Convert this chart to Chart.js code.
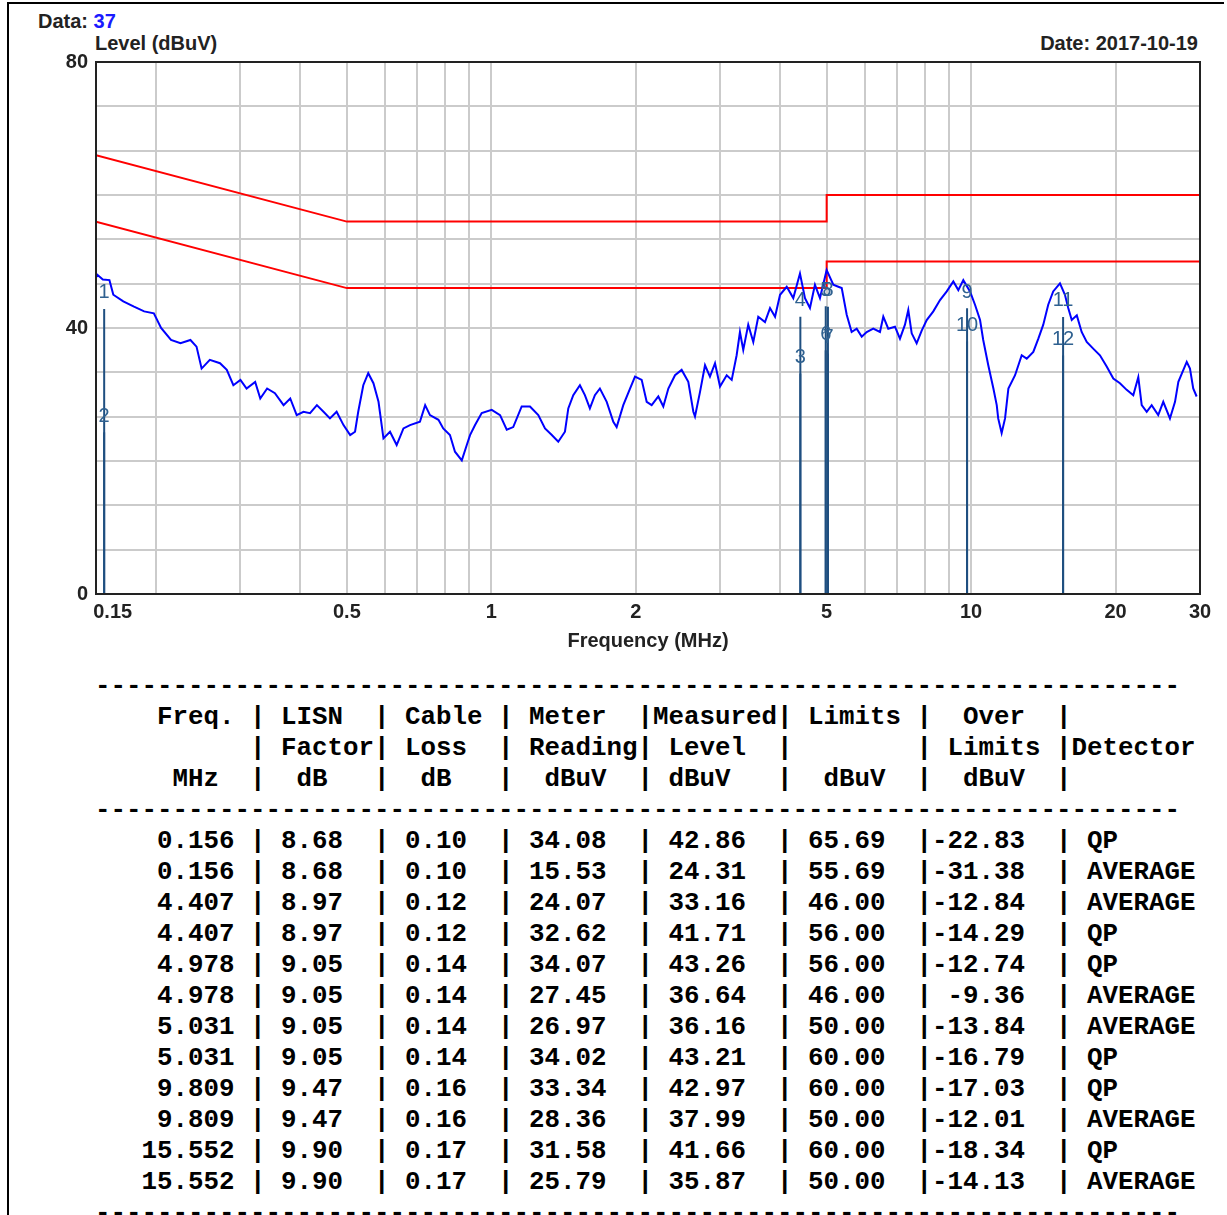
<!DOCTYPE html>
<html>
<head>
<meta charset="utf-8">
<title>Conducted emission</title>
<script src="https://cdn.jsdelivr.net/npm/chart.js@4.4.1/dist/chart.umd.min.js"></script>
<style>
  html, body { margin: 0; padding: 0; background: #fff; }
  body { width: 1227px; height: 1215px; position: relative; overflow: hidden; font-family: 'Liberation Sans', Arial, sans-serif; }
  .frame { position: absolute; left: 7px; top: 2px; width: 1215px; height: 1240px; border-left: 2px solid #000; border-top: 2px solid #000; }
  .lbl { position: absolute; font-weight: bold; font-size: 20px; color: #222; white-space: nowrap; line-height: 20px; }
  #chartBox { position: absolute; left: 0; top: 0; }
  #table { position: absolute; left: 95px; top: 671px; margin: 0; font-family: 'Liberation Mono', 'Courier New', monospace; font-weight: bold; font-size: 25.83px; line-height: 31px; color: #000; }
</style>
</head>
<body>
<div class="frame"></div>
<div class="lbl" style="left:38px; top:11px;">Data: <span style="color:#1a1aff">37</span></div>
<div class="lbl" style="left:95px; top:33px;">Level (dBuV)</div>
<div class="lbl" style="right:29px; top:33px;">Date: 2017-10-19</div>
<canvas id="chartBox" width="1227" height="660"></canvas>
<pre id="table"></pre>

<script>
// Шкалы
const xGridValues = [0.15, 0.2, 0.3, 0.4, 0.5, 0.6, 0.7, 0.8, 0.9, 1, 2, 3, 4, 5, 6, 7, 8, 9, 10, 20, 30];
const xLabelValues = [0.15, 0.5, 1, 2, 5, 10, 20, 30];
const yGridValues = [0, 6.667, 13.333, 20, 26.667, 33.333, 40, 46.667, 53.333, 60, 66.667, 73.333, 80];
const yLabelValues = [0, 40, 80];

// Пределы (QP и AVERAGE)
const limitFreq = [0.15, 0.5, 5, 5, 30];
const qpLimitLevel = [66, 56, 56, 60, 60];
const avLimitLevel = [56, 46, 46, 50, 50];

// Спектр
const traceFreq = [
  0.150, 0.151, 0.155, 0.160, 0.163, 0.171, 0.180, 0.189, 0.198, 0.205,
  0.215, 0.225, 0.236, 0.243, 0.249, 0.259, 0.272, 0.281, 0.290, 0.300,
  0.309, 0.322, 0.330, 0.341, 0.354, 0.369, 0.381, 0.393, 0.406, 0.419,
  0.433, 0.447, 0.461, 0.476, 0.492, 0.508, 0.520, 0.528, 0.541, 0.554,
  0.568, 0.582, 0.596, 0.615, 0.635, 0.656, 0.677, 0.710, 0.728, 0.745,
  0.776, 0.794, 0.820, 0.840, 0.868, 0.889,
  0.903, 0.925, 0.955, 1.002, 1.043, 1.077, 1.111, 1.157, 1.204, 1.253,
  1.294, 1.337, 1.379, 1.424, 1.447, 1.482, 1.530, 1.567, 1.605, 1.644,
  1.684, 1.740, 1.796, 1.825, 1.884, 1.946, 1.993, 2.058, 2.108, 2.159,
  2.229, 2.283, 2.339, 2.415, 2.493, 2.574, 2.637, 2.658, 2.723, 2.789,
  2.856, 2.926, 2.997, 3.095, 3.170, 3.246, 3.298, 3.351, 3.432, 3.516,
  3.601, 3.719, 3.810, 3.903, 3.998, 4.128, 4.260, 4.399, 4.506, 4.615,
  4.727, 4.842, 5.000, 5.162, 5.288,
  5.375, 5.505, 5.637, 5.775, 5.916, 6.059, 6.253, 6.458, 6.562, 6.720,
  6.940, 7.108, 7.281, 7.398, 7.520, 7.701, 7.890, 8.082, 8.342, 8.615,
  8.898, 9.183, 9.406, 9.633, 9.949, 10.19, 10.44, 10.60, 10.86, 11.13,
  11.31, 11.39, 11.58, 11.77, 11.96, 12.35, 12.75, 13.06, 13.48, 13.81,
  14.14, 14.48, 14.83, 15.32, 15.69, 15.94, 16.21, 16.61, 17.00, 17.42,
  17.97, 18.56, 19.17, 19.79, 20.43, 21.10, 21.78, 22.31, 22.68, 23.23,
  23.79, 24.55, 25.15, 25.97, 26.61, 27.04, 27.70, 28.15, 28.59, 29.04,
  29.52
];
const traceLevel = [
  47.6, 48.0, 47.3, 47.2, 45.0, 44.0, 43.2, 42.5, 42.2, 40.0,
  38.2, 37.7, 38.2, 37.2, 33.9, 35.2, 34.7, 33.7, 31.4, 32.2,
  30.9, 31.9, 29.4, 30.9, 30.2, 28.4, 29.4, 26.9, 27.4, 27.2,
  28.4, 27.4, 26.4, 27.4, 25.4, 23.9, 24.4, 27.4, 31.4, 33.2,
  31.7, 28.9, 23.4, 24.4, 22.4, 24.9, 25.4, 25.9, 28.4, 26.9,
  26.2, 24.9, 23.9, 21.4, 20.1, 22.4,
  23.9, 25.4, 27.2, 27.7, 26.9, 24.7, 25.1, 28.2, 28.2, 26.9,
  24.9, 23.9, 22.9, 24.4, 27.9, 29.9, 31.4, 29.9, 27.9, 29.9,
  30.9, 28.9, 25.9, 25.1, 28.4, 30.9, 32.7, 32.2, 28.9, 28.4,
  29.7, 28.2, 30.9, 32.9, 33.7, 31.9, 27.4, 26.7, 30.4, 34.4,
  32.7, 34.7, 31.2, 32.9, 32.2, 35.9, 39.4, 36.7, 40.5, 37.9,
  41.7, 40.9, 43.0, 41.7, 45.0, 46.2, 44.5, 48.2, 44.5, 43.0,
  46.5, 44.5, 48.7, 46.5, 46.2,
  46.0, 42.0, 39.4, 39.9, 38.7, 39.4, 39.9, 39.4, 41.7, 39.9,
  40.2, 38.4, 40.5, 42.7, 39.2, 37.7, 39.6, 41.2, 42.5, 44.2,
  45.5, 47.0, 45.7, 47.2, 45.5, 43.5, 41.2, 38.2, 34.4, 30.9,
  28.4, 26.4, 24.2, 26.4, 30.9, 32.9, 35.9, 35.4, 36.4, 38.4,
  40.5, 43.5, 45.5, 46.7, 45.0, 43.0, 41.2, 41.9, 39.4, 37.9,
  36.9, 35.9, 34.2, 32.4, 31.7, 30.7, 29.9, 32.6, 28.4, 27.4,
  28.4, 26.9, 28.9, 26.4, 28.9, 31.9, 33.7, 34.9, 33.9, 30.9,
  29.7
];

// Таблица измерений (она же маркеры 1..12)
const tFreq = [0.156, 0.156, 4.407, 4.407, 4.978, 4.978, 5.031, 5.031, 9.809, 9.809, 15.552, 15.552];
const tLisn = [8.68, 8.68, 8.97, 8.97, 9.05, 9.05, 9.05, 9.05, 9.47, 9.47, 9.90, 9.90];
const tCable = [0.10, 0.10, 0.12, 0.12, 0.14, 0.14, 0.14, 0.14, 0.16, 0.16, 0.17, 0.17];
const tMeter = [34.08, 15.53, 24.07, 32.62, 34.07, 27.45, 26.97, 34.02, 33.34, 28.36, 31.58, 25.79];
const tLevel = [42.86, 24.31, 33.16, 41.71, 43.26, 36.64, 36.16, 43.21, 42.97, 37.99, 41.66, 35.87];
const tLimit = [65.69, 55.69, 46.00, 56.00, 56.00, 46.00, 50.00, 60.00, 60.00, 50.00, 60.00, 50.00];
const tOver = [-22.83, -31.38, -12.84, -14.29, -12.74, -9.36, -13.84, -16.79, -17.03, -12.01, -18.34, -14.13];
const tDetector = ['QP', 'AVERAGE', 'AVERAGE', 'QP', 'QP', 'AVERAGE', 'AVERAGE', 'QP', 'QP', 'AVERAGE', 'QP', 'AVERAGE'];

const MARKER_COLOR = '#1f4f80';
const LABEL_COLOR = '#2f6190';
const FONT = "'Liberation Sans', Arial, sans-serif";

// Текстовая таблица
function renderTable() {
  const dash = '-'.repeat(70);
  const lines = [
    dash,
    '    Freq. | LISN  | Cable | Meter  |Measured| Limits |  Over  |',
    '          | Factor| Loss  | Reading| Level  |        | Limits |Detector',
    '     MHz  |  dB   |  dB   |  dBuV  | dBuV   |  dBuV  |  dBuV  |',
    dash
  ];
  tFreq.forEach((f, i) => {
    lines.push(
      f.toFixed(3).padStart(9) + ' | ' +
      tLisn[i].toFixed(2).padEnd(6) + '| ' +
      tCable[i].toFixed(2).padEnd(6) + '| ' +
      tMeter[i].toFixed(2).padEnd(7) + '| ' +
      tLevel[i].toFixed(2).padEnd(7) + '| ' +
      tLimit[i].toFixed(2).padEnd(7) + '|' +
      tOver[i].toFixed(2).padStart(6) + '  | ' + tDetector[i]
    );
  });
  lines.push(dash);
  document.getElementById('table').textContent = lines.join('\n');
}

// Номера маркеров над вертикальными линиями
const markerLabels = {
  id: 'markerLabels',
  afterDatasetsDraw(chart) {
    const { ctx, scales: { x, y } } = chart;
    ctx.save();
    ctx.font = '20px ' + FONT;
    ctx.fillStyle = LABEL_COLOR;
    ctx.textAlign = 'center';
    ctx.textBaseline = 'middle';
    tFreq.forEach((f, i) => {
      ctx.fillText(String(i + 1), x.getPixelForValue(f), y.getPixelForValue(tLevel[i]) - 16);
    });
    ctx.restore();
  }
};

// Рамка области графика
const plotFrame = {
  id: 'plotFrame',
  afterDraw(chart) {
    const { ctx, chartArea: a } = chart;
    ctx.save();
    ctx.strokeStyle = '#222';
    ctx.lineWidth = 2;
    ctx.strokeRect(a.left, a.top, a.right - a.left, a.bottom - a.top);
    ctx.restore();
  }
};

function renderChart() {
  const pts = (xs, ys) => xs.map((v, i) => ({ x: v, y: ys[i] }));
  const markerSets = tFreq.map((f, i) => ({
    data: [{ x: f, y: 0 }, { x: f, y: tLevel[i] }],
    borderColor: MARKER_COLOR,
    borderWidth: 2,
    pointRadius: 0,
    order: 0
  }));

  const datasets = [
    ...markerSets,
    { data: pts(traceFreq, traceLevel), borderColor: '#0000ff', borderWidth: 2, pointRadius: 0, order: 1 },
    { data: pts(limitFreq, qpLimitLevel), borderColor: '#ff0000', borderWidth: 2, pointRadius: 0, order: 2 },
    { data: pts(limitFreq, avLimitLevel), borderColor: '#ff0000', borderWidth: 2, pointRadius: 0, order: 2 }
  ];

  const tickFont = { family: FONT, size: 20, weight: 'bold' };

  new Chart(document.getElementById('chartBox'), {
    type: 'line',
    data: { datasets },
    options: {
      responsive: false,
      animation: false,
      devicePixelRatio: 1,
      layout: { padding: { top: 62, right: 27, bottom: 0, left: 0 } },
      plugins: { legend: { display: false }, tooltip: { enabled: false } },
      elements: { line: { tension: 0 } },
      scales: {
        x: {
          type: 'logarithmic',
          min: 0.15,
          max: 30,
          afterBuildTicks: (scale) => { scale.ticks = xGridValues.map(v => ({ value: v })); },
          afterFit: (scale) => { scale.height = 66; },
          ticks: {
            autoSkip: false,
            maxRotation: 0,
            minRotation: 0,
            padding: 6,
            color: '#222',
            font: tickFont,
            callback: (v) => {
              if (!xLabelValues.includes(v)) return '';
              return v === 0.15 ? '      0.15' : String(v);
            }
          },
          grid: { color: '#cbcbcb', lineWidth: 2, drawTicks: false },
          border: { display: false },
          title: { display: true, text: 'Frequency (MHz)', color: '#222', font: tickFont, padding: { top: 0, bottom: 7 } }
        },
        y: {
          min: 0,
          max: 80,
          afterBuildTicks: (scale) => { scale.ticks = yGridValues.map(v => ({ value: v })); },
          afterFit: (scale) => { scale.width = 96; },
          ticks: {
            padding: 8,
            color: '#222',
            font: tickFont,
            callback: (v) => yLabelValues.some(l => Math.abs(l - v) < 0.01) ? String(Math.round(v)) : ''
          },
          grid: { color: '#cbcbcb', lineWidth: 2, drawTicks: false },
          border: { display: false }
        }
      }
    },
    plugins: [markerLabels, plotFrame]
  });
}

document.addEventListener('DOMContentLoaded', () => {
  renderTable();
  renderChart();
});
</script>
</body>
</html>
